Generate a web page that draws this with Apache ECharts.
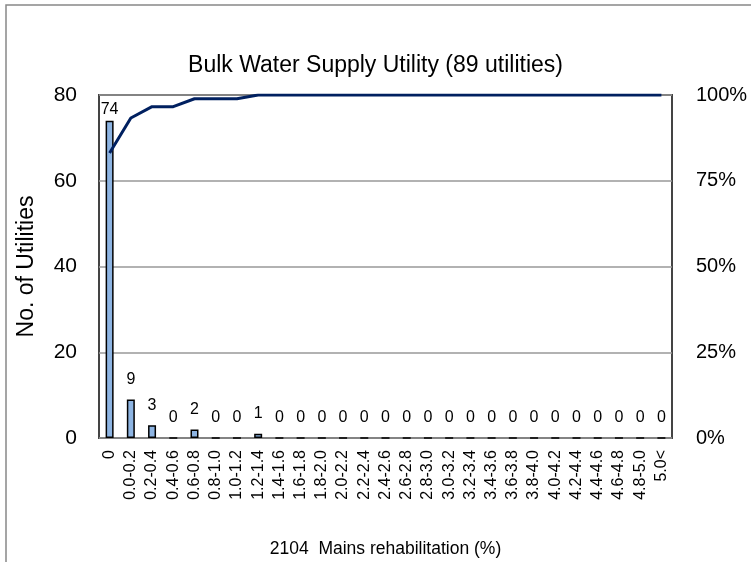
<!DOCTYPE html>
<html>
<head>
<meta charset="utf-8">
<script src="https://cdn.jsdelivr.net/npm/echarts@6/dist/echarts.min.js"></script>
<style>
  html, body { margin: 0; padding: 0; background: #fff; }
  #main { width: 751px; height: 562px; }
</style>
</head>
<body>
<div id="main"></div>
<script>
// categories of mains rehabilitation rate (%)
var categories = ['0', '0.0-0.2', '0.2-0.4', '0.4-0.6', '0.6-0.8', '0.8-1.0', '1.0-1.2', '1.2-1.4',
    '1.4-1.6', '1.6-1.8', '1.8-2.0', '2.0-2.2', '2.2-2.4', '2.4-2.6', '2.6-2.8', '2.8-3.0',
    '3.0-3.2', '3.2-3.4', '3.4-3.6', '3.6-3.8', '3.8-4.0', '4.0-4.2', '4.2-4.4', '4.4-4.6',
    '4.6-4.8', '4.8-5.0', '5.0<'];
// number of utilities in each class
var counts = [74, 9, 3, 0, 2, 0, 0, 1, 0, 0, 0, 0, 0, 0, 0, 0, 0, 0, 0, 0, 0, 0, 0, 0, 0, 0, 0];
// cumulative share (0..1)
var cumulative = [0.831, 0.933, 0.966, 0.966, 0.989, 0.989, 0.989, 1, 1, 1, 1, 1, 1, 1, 1, 1,
    1, 1, 1, 1, 1, 1, 1, 1, 1, 1, 1];

var font = 'Liberation Sans, Arial, sans-serif';
var myChart = echarts.init(document.getElementById('main'));

// the tallest bar's label sits tight against the plot top
var barData = counts.map(function (v, i) {
    return i === 0 ? { value: v, label: { distance: 3 } } : v;
});

var option = {
    animation: false,
    title: {
        text: 'Bulk Water Supply Utility (89 utilities)',
        left: 'center',
        top: 49,
        textStyle: { fontFamily: font, fontSize: 23, fontWeight: 'normal', color: '#000' }
    },
    graphic: [{
        type: 'rect',
        shape: { x: 6, y: 5, width: 800, height: 600 },
        style: { fill: 'none', stroke: '#888', lineWidth: 1.5 },
        silent: true
    }],
    grid: {
        left: 99, right: 79, top: 95, bottom: 124,
        outerBoundsMode: 'none',
        containLabel: false,
        show: true, borderColor: '#444', borderWidth: 2
    },
    xAxis: {
        type: 'category',
        data: categories,
        name: '2104  Mains rehabilitation (%)',
        nameLocation: 'middle',
        nameGap: 102,
        nameMoveOverlap: false,
        nameTextStyle: { fontFamily: font, fontSize: 17.5, color: '#000' },
        axisLine: { show: false },
        axisTick: { show: false },
        axisLabel: {
            rotate: 90, interval: 0, margin: 12,
            fontFamily: font, fontSize: 16, color: '#000'
        }
    },
    yAxis: [{
        type: 'value',
        min: 0, max: 80, interval: 20,
        name: 'No. of Utilities',
        nameLocation: 'middle',
        nameGap: 61,
        nameMoveOverlap: false,
        nameTextStyle: { fontFamily: font, fontSize: 23, color: '#000' },
        axisLine: { show: false },
        axisTick: { show: false },
        axisLabel: { margin: 22, fontFamily: font, fontSize: 21, color: '#000' },
        splitLine: { lineStyle: { color: '#999', width: 1.5 } }
    }, {
        type: 'value',
        min: 0, max: 1, interval: 0.25,
        position: 'right',
        axisLine: { show: false },
        axisTick: { show: false },
        splitLine: { show: false },
        axisLabel: {
            margin: 24, fontFamily: font, fontSize: 20, color: '#000',
            formatter: function (v) { return Math.round(v * 100) + '%'; }
        }
    }],
    series: [{
        name: 'Utilities',
        type: 'bar',
        data: barData,
        barWidth: 8,
        itemStyle: { color: '#8DB4E2', borderColor: '#000', borderWidth: 1.5 },
        label: {
            show: true, position: 'top', distance: 12,
            fontFamily: font, fontSize: 16, color: '#000'
        }
    }, {
        name: 'Cumulative',
        type: 'line',
        yAxisIndex: 1,
        data: cumulative,
        symbol: 'none',
        lineStyle: { color: '#002060', width: 3 },
        z: 5
    }]
};

myChart.setOption(option);
</script>
</body>
</html>
